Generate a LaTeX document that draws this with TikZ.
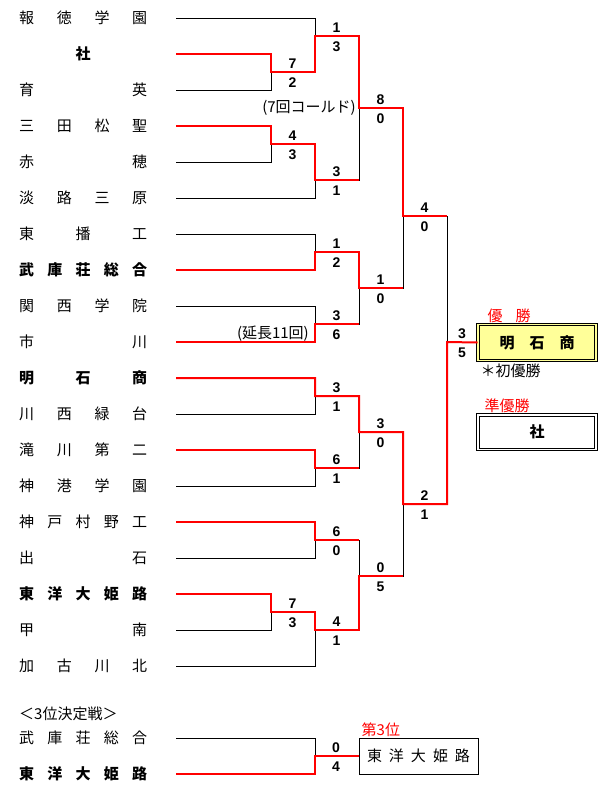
\documentclass[tikz,border=0pt]{standalone}
\usepackage{fontspec}
\setmainfont{Liberation Sans}
\newfontfamily\jp{Noto Sans CJK JP}
\usetikzlibrary{positioning}
\definecolor{paleyellow}{HTML}{FFFF99}

\begin{document}
\begin{tikzpicture}[
    x=1pt, y=-1pt,
    jptext/.style={inner sep=0pt, font=\jp\fontsize{15}{15}\selectfont},
    team/.style={jptext, anchor=west, text width=128pt},
    seed/.style={team, font=\jp\bfseries\fontsize{15}{15}\selectfont},
    rednote/.style={jptext, text=red},
    lose/.style={draw=black, line width=1pt},
    win/.style={draw=red, line width=2pt},
    sc/.style={inner sep=0pt, font=\bfseries\fontsize{14}{14}\selectfont},
    resultbox/.style={jptext, draw, line width=1pt, double distance=1.5pt, minimum width=118pt, minimum height=36pt},
]
\useasboundingbox (0,0) rectangle (611,793);

% Schools
\node[team] (t1)  at (19,18)  {報\hfill 徳\hfill 学\hfill 園};
\node[seed] (t2)  at (19,54)  {\hfill 社\hfill\null};
\node[team] (t3)  at (19,90)  {育\hfill 英};
\node[team] (t4)  at (19,126) {三\hfill 田\hfill 松\hfill 聖};
\node[team] (t5)  at (19,162) {赤\hfill 穂};
\node[team] (t6)  at (19,198) {淡\hfill 路\hfill 三\hfill 原};
\node[team] (t7)  at (19,234) {東\hfill 播\hfill 工};
\node[seed] (t8)  at (19,270) {武\hfill 庫\hfill 荘\hfill 総\hfill 合};
\node[team] (t9)  at (19,306) {関\hfill 西\hfill 学\hfill 院};
\node[team] (t10) at (19,342) {市\hfill 川};
\node[seed] (t11) at (19,378) {明\hfill 石\hfill 商};
\node[team] (t12) at (19,414) {川\hfill 西\hfill 緑\hfill 台};
\node[team] (t13) at (19,450) {滝\hfill 川\hfill 第\hfill 二};
\node[team] (t14) at (19,486) {神\hfill 港\hfill 学\hfill 園};
\node[team] (t15) at (19,522) {神\hfill 戸\hfill 村\hfill 野\hfill 工};
\node[team] (t16) at (19,558) {出\hfill 石};
\node[seed] (t17) at (19,594) {東\hfill 洋\hfill 大\hfill 姫\hfill 路};
\node[team] (t18) at (19,630) {甲\hfill 南};
\node[team] (t19) at (19,666) {加\hfill 古\hfill 川\hfill 北};

% Line starts
\coordinate (s1) at (176,18);   \coordinate (s2) at (176,54);   \coordinate (s3) at (176,90);
\coordinate (s4) at (176,126);  \coordinate (s5) at (176,162);  \coordinate (s6) at (176,198);
\coordinate (s7) at (176,234);  \coordinate (s8) at (176,270);  \coordinate (s9) at (176,306);
\coordinate (s10) at (176,342); \coordinate (s11) at (176,378); \coordinate (s12) at (176,414);
\coordinate (s13) at (176,450); \coordinate (s14) at (176,486); \coordinate (s15) at (176,522);
\coordinate (s16) at (176,558); \coordinate (s17) at (176,594); \coordinate (s18) at (176,630);
\coordinate (s19) at (176,666);

% Match points
\coordinate (a1) at (271,72);  \coordinate (a2) at (271,144); \coordinate (a3) at (271,612);
\coordinate (b1) at (315,36);  \coordinate (b2) at (315,180); \coordinate (b3) at (315,252);
\coordinate (b4) at (315,324); \coordinate (b5) at (315,396); \coordinate (b6) at (315,468);
\coordinate (b7) at (315,540); \coordinate (b8) at (315,630);
\coordinate (c1) at (359,108); \coordinate (c2) at (359,288);
\coordinate (c3) at (359,432); \coordinate (c4) at (359,576);
\coordinate (d1) at (403,216); \coordinate (d2) at (403,504);
\coordinate (f)  at (447,342);

% Result boxes
\node[resultbox, fill=paleyellow, double=paleyellow, minimum height=36pt] (champ) at (537,342.5)
    {\bfseries 明\hspace{15pt}石\hspace{15pt}商};
\node[rednote, anchor=south west] (champlbl) at ([xshift=10pt, yshift=1pt]champ.north west) {優\hspace{13pt}勝};
\node[jptext, anchor=north west] (first) at ([xshift=3pt, yshift=-3pt]champ.south west) {＊初優勝};
\node[resultbox, double=white, minimum height=34.5pt] (runup) at (537,432) {\bfseries 社};
\node[rednote, anchor=south west] (runuplbl) at ([xshift=7pt, yshift=1pt]runup.north west) {準優勝};

% Bracket (black)
\draw[lose] (s1) -| (b1) (s2) -| (a1) (s3) -| (a1) (a1) -| (b1);
\draw[lose] (s4) -| (a2) (s5) -| (a2) (a2) -| (b2) (s6) -| (b2);
\draw[lose] (s7) -| (b3) (s8) -| (b3) (s9) -| (b4) (s10) -| (b4);
\draw[lose] (s11) -| (b5) (s12) -| (b5) (s13) -| (b6) (s14) -| (b6);
\draw[lose] (s15) -| (b7) (s16) -| (b7) (s17) -| (a3) (s18) -| (a3) (a3) -| (b8) (s19) -| (b8);
\draw[lose] (b1) -| (c1) (b2) -| (c1) (b3) -| (c2) (b4) -| (c2);
\draw[lose] (b5) -| (c3) (b6) -| (c3) (b7) -| (c4) (b8) -| (c4);
\draw[lose] (c1) -| (d1) (c2) -| (d1) (c3) -| (d2) (c4) -| (d2);
\draw[lose] (d1) -| (f) (d2) -| (f);

% Winners (red)
\draw[win] (s2) -| (a1) -| (b1) -| (c1) -| (d1) -- (d1 -| f);
\draw[win] (s4) -| (a2) -| (b2) -- (b2 -| c1);
\draw[win] (s8) -| (b3) -| (c2) -- (c2 -| d1);
\draw[win] (s10) -| (b4) -- (b4 -| c2);
\draw[win] (s11) -| (b5) -| (c3) -| (d2) -| (f) -- (champ.west);
\draw[win] (s13) -| (b6) -- (b6 -| c3);
\draw[win] (s15) -| (b7) -- (b7 -| c4);
\draw[win] (s17) -| (a3) -| (b8) -| (c4) -- (c4 -| d2);

% Scores
\node[sc] (a1u) at ([xshift=21.5pt, yshift=8pt]a1) {7};  \node[sc] (a1d) at ([xshift=21.5pt, yshift=-10.5pt]a1) {2};
\node[sc] (a2u) at ([xshift=21.5pt, yshift=8pt]a2) {4};  \node[sc] (a2d) at ([xshift=21.5pt, yshift=-10.5pt]a2) {3};
\node[sc] (a3u) at ([xshift=21.5pt, yshift=8pt]a3) {7};  \node[sc] (a3d) at ([xshift=21.5pt, yshift=-10.5pt]a3) {3};
\node[sc] (b1u) at ([xshift=21.5pt, yshift=8pt]b1) {1};  \node[sc] (b1d) at ([xshift=21.5pt, yshift=-10.5pt]b1) {3};
\node[sc] (b2u) at ([xshift=21.5pt, yshift=8pt]b2) {3};  \node[sc] (b2d) at ([xshift=21.5pt, yshift=-10.5pt]b2) {1};
\node[sc] (b3u) at ([xshift=21.5pt, yshift=8pt]b3) {1};  \node[sc] (b3d) at ([xshift=21.5pt, yshift=-10.5pt]b3) {2};
\node[sc] (b4u) at ([xshift=21.5pt, yshift=8pt]b4) {3};  \node[sc] (b4d) at ([xshift=21.5pt, yshift=-10.5pt]b4) {6};
\node[sc] (b5u) at ([xshift=21.5pt, yshift=8pt]b5) {3};  \node[sc] (b5d) at ([xshift=21.5pt, yshift=-10.5pt]b5) {1};
\node[sc] (b6u) at ([xshift=21.5pt, yshift=8pt]b6) {6};  \node[sc] (b6d) at ([xshift=21.5pt, yshift=-10.5pt]b6) {1};
\node[sc] (b7u) at ([xshift=21.5pt, yshift=8pt]b7) {6};  \node[sc] (b7d) at ([xshift=21.5pt, yshift=-10.5pt]b7) {0};
\node[sc] (b8u) at ([xshift=21.5pt, yshift=8pt]b8) {4};  \node[sc] (b8d) at ([xshift=21.5pt, yshift=-10.5pt]b8) {1};
\node[sc] (c1u) at ([xshift=21.5pt, yshift=8pt]c1) {8};  \node[sc] (c1d) at ([xshift=21.5pt, yshift=-10.5pt]c1) {0};
\node[sc] (c2u) at ([xshift=21.5pt, yshift=8pt]c2) {1};  \node[sc] (c2d) at ([xshift=21.5pt, yshift=-10.5pt]c2) {0};
\node[sc] (c3u) at ([xshift=21.5pt, yshift=8pt]c3) {3};  \node[sc] (c3d) at ([xshift=21.5pt, yshift=-10.5pt]c3) {0};
\node[sc] (c4u) at ([xshift=21.5pt, yshift=8pt]c4) {0};  \node[sc] (c4d) at ([xshift=21.5pt, yshift=-10.5pt]c4) {5};
\node[sc] (d1u) at ([xshift=21.5pt, yshift=8pt]d1) {4};  \node[sc] (d1d) at ([xshift=21.5pt, yshift=-10.5pt]d1) {0};
\node[sc] (d2u) at ([xshift=21.5pt, yshift=8pt]d2) {2};  \node[sc] (d2d) at ([xshift=21.5pt, yshift=-10.5pt]d2) {1};
\node[sc] (fu)  at ([xshift=15pt, yshift=8pt]f) {3};     \node[sc] (fd)  at ([xshift=15pt, yshift=-10.5pt]f) {5};

% Notes on games
\node[jptext, anchor=east] (cold) at ([xshift=-3pt]c1) {(7回コールド)};
\node[jptext, anchor=east] (extra) at ([xshift=-6pt, yshift=-10pt]b4) {(延長11回)};

% Third place game
\node[jptext, anchor=west] (thirdlbl) at (19,714) {＜3位決定戦＞};
\node[team] (u1) at (19,738) {武\hfill 庫\hfill 荘\hfill 総\hfill 合};
\node[seed] (u2) at (19,774) {東\hfill 洋\hfill 大\hfill 姫\hfill 路};
\coordinate (v1) at (176,738); \coordinate (v2) at (176,774);
\coordinate (m3) at (315,756);
\node[jptext, draw, line width=1pt, minimum width=119pt, minimum height=36pt] (third) at (418.5,756)
    {東\hspace{7pt}洋\hspace{7pt}大\hspace{7pt}姫\hspace{7pt}路};
\node[rednote, anchor=south west] (thirdwin) at ([xshift=3pt, yshift=1pt]third.north west) {第3位};
\draw[lose] (v1) -| (m3) (v2) -| (m3);
\draw[win] (v2) -| (m3) -- (third.west);
\node[sc] (m3u) at ([xshift=21pt, yshift=8pt]m3) {0};  \node[sc] (m3d) at ([xshift=21pt, yshift=-10.5pt]m3) {4};

\end{tikzpicture}
\end{document}
